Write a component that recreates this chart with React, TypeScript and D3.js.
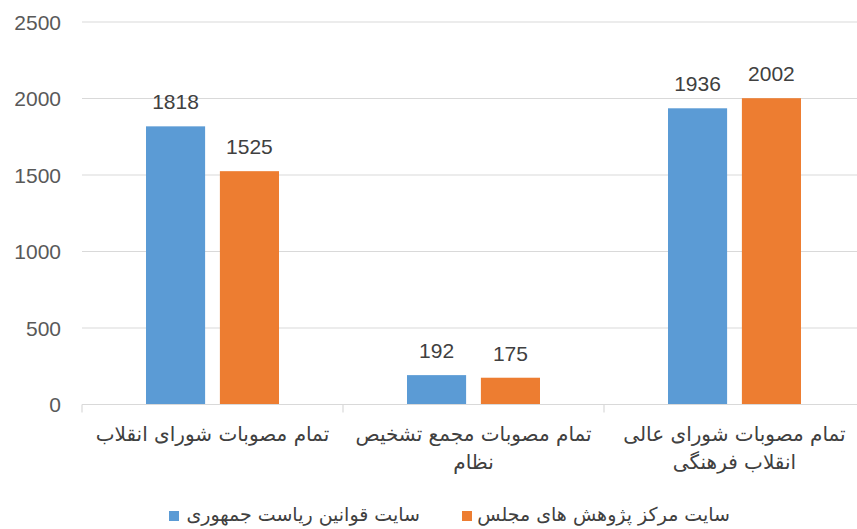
import React from "react";
import * as d3 from "d3";

const categories = [
  ["تمام مصوبات شورای انقلاب"],
  ["تمام مصوبات مجمع تشخیص", "نظام"],
  ["تمام مصوبات شورای عالی", "انقلاب فرهنگی"],
];
const seriesNames = ["سایت قوانین ریاست جمهوری", "سایت مرکز پژوهش های مجلس"];
const blueValues = [1818, 192, 1936];
const orangeValues = [1525, 175, 2002];
const yTicks = [0, 500, 1000, 1500, 2000, 2500];
const colors = ["#5B9BD5", "#ED7D31"];

export default function App() {
  const W = 857, H = 529;
  const x0 = 82, x1 = 865;
  const y = d3.scaleLinear().domain([0, 2500]).range([404.5, 22]);
  const xBand = d3.scaleBand<number>().domain([0, 1, 2]).range([x0, x1]);
  const inner = d3.scaleBand<number>().domain([0, 1]).range([-66.5, 66.5]).paddingInner(0.2);
  const series = [blueValues, orangeValues];
  const fa = "'DejaVu Sans', sans-serif";
  const num = "'Liberation Sans', Arial, sans-serif";
  return (
    <svg width={W} height={H} style={{ position: "absolute", left: 0, top: 0, background: "#fff" }}>
      {yTicks.map((t) => (
        <g key={t}>
          {t > 0 && <line x1={x0} x2={x1} y1={y(t)} y2={y(t)} stroke="#d9d9d9" strokeWidth={1.2} />}
          <text x={61} y={y(t) + 7.5} textAnchor="end" fontSize={21} fill="#595959" fontFamily={num}>{t}</text>
        </g>
      ))}
      {series.map((vals, si) =>
        vals.map((v, ci) => {
          const bx = xBand(ci)! + xBand.bandwidth() / 2 + inner(si)!;
          const bw = inner.bandwidth();
          return (
            <g key={`${si}-${ci}`}>
              <rect x={bx} y={y(v)} width={bw} height={y(0) - y(v)} fill={colors[si]} />
              <text x={bx + bw / 2} y={y(v) - 17} textAnchor="middle" fontSize={21} fill="#404040" fontFamily={num}>{v}</text>
            </g>
          );
        })
      )}
      <line x1={x0} x2={x1} y1={y(0)} y2={y(0)} stroke="#d9d9d9" strokeWidth={1.2} />
      {[0, 1, 2, 3].map((i) => {
        const xx = x0 + (i * (x1 - x0)) / 3;
        return <line key={i} x1={xx} x2={xx} y1={y(0)} y2={y(0) + 8} stroke="#d9d9d9" strokeWidth={1.2} />;
      })}
      {categories.map((lines, ci) => (
        <text key={ci} textAnchor="middle" fontSize={20} fill="#404040" fontFamily={fa} direction="rtl">
          {lines.map((l, li) => (
            <tspan key={li} x={xBand(ci)! + xBand.bandwidth() / 2} y={441 + li * 28}>{l}</tspan>
          ))}
        </text>
      ))}
      <rect x={169} y={511} width={10} height={10} fill={colors[0]} />
      <text x={420} y={521} textAnchor="end" fontSize={19} fill="#404040" fontFamily={fa}>{seriesNames[0]}</text>
      <rect x={462} y={511} width={10} height={10} fill={colors[1]} />
      <text x={730} y={521} textAnchor="end" fontSize={19} fill="#404040" fontFamily={fa}>{seriesNames[1]}</text>
    </svg>
  );
}
